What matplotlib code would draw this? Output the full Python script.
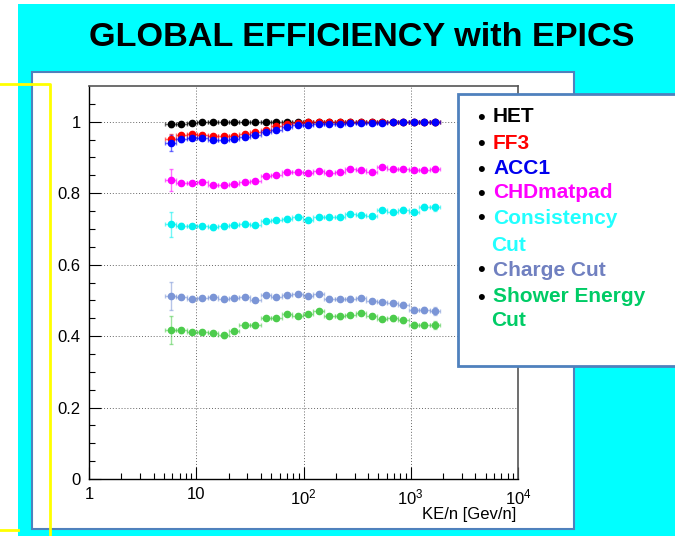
import numpy as np
import matplotlib.pyplot as plt
from matplotlib.patches import Rectangle
from matplotlib.lines import Line2D
from matplotlib.ticker import FixedLocator, NullFormatter, LogLocator


# ============================================================
# DATA
# ============================================================

KE = [5.78, 7.25, 9.10, 11.4, 14.3, 18.0, 22.6, 28.3, 35.5, 44.6, 55.9, 70.2, 88.1,
      110.5, 138.7, 174.0, 218.3, 274.0, 343.8, 431.4, 541.3, 679.3, 852.3, 1069, 1342, 1684]

HET = [0.993, 0.995, 0.997, 0.998, 0.998, 0.998, 0.998, 0.998, 0.998, 0.999, 0.999, 0.999, 1.000,
       1.000, 1.000, 1.000, 1.000, 1.000, 1.000, 1.000, 1.000, 1.000, 1.000, 1.000, 1.000, 1.000]
HET_ERR = [0.008, 0.004, 0.003, 0.002, 0.002, 0.002, 0.002, 0.002, 0.002, 0.002, 0.002, 0.002, 0.002,
           0.002, 0.002, 0.002, 0.002, 0.002, 0.002, 0.002, 0.002, 0.002, 0.002, 0.003, 0.003, 0.004]

FF3 = [0.951, 0.962, 0.967, 0.964, 0.959, 0.961, 0.961, 0.965, 0.970, 0.978, 0.987, 0.994, 0.996,
       0.999, 0.999, 0.999, 1.000, 1.000, 1.000, 1.000, 1.000, 1.000, 1.000, 1.000, 1.000, 1.000]
FF3_ERR = [0.015, 0.006, 0.005, 0.004, 0.004, 0.004, 0.004, 0.004, 0.004, 0.003, 0.003, 0.003, 0.003,
           0.003, 0.003, 0.003, 0.003, 0.003, 0.003, 0.003, 0.003, 0.003, 0.003, 0.003, 0.004, 0.004]

ACC1 = [0.940, 0.951, 0.955, 0.955, 0.950, 0.950, 0.951, 0.957, 0.963, 0.971, 0.978, 0.984, 0.990,
        0.992, 0.993, 0.994, 0.995, 0.996, 0.997, 0.997, 0.997, 0.998, 0.998, 0.998, 0.998, 0.998]
ACC1_ERR = [0.022, 0.008, 0.006, 0.005, 0.005, 0.005, 0.005, 0.005, 0.004, 0.004, 0.004, 0.004, 0.004,
            0.004, 0.004, 0.004, 0.004, 0.004, 0.004, 0.004, 0.004, 0.004, 0.004, 0.005, 0.005, 0.006]

CHD = [0.836, 0.828, 0.828, 0.831, 0.824, 0.824, 0.826, 0.831, 0.833, 0.847, 0.852, 0.858, 0.860,
       0.857, 0.862, 0.856, 0.859, 0.868, 0.864, 0.859, 0.872, 0.867, 0.867, 0.864, 0.866, 0.868]
CHD_ERR = [0.031, 0.006, 0.005, 0.005, 0.005, 0.005, 0.005, 0.005, 0.005, 0.005, 0.005, 0.005, 0.005,
           0.005, 0.005, 0.005, 0.005, 0.005, 0.005, 0.005, 0.005, 0.005, 0.006, 0.006, 0.007, 0.008]

CONS = [0.713, 0.709, 0.709, 0.707, 0.704, 0.707, 0.710, 0.715, 0.711, 0.723, 0.725, 0.729, 0.733,
        0.726, 0.733, 0.733, 0.733, 0.741, 0.739, 0.737, 0.753, 0.748, 0.753, 0.748, 0.761, 0.761]
CONS_ERR = [0.035, 0.007, 0.006, 0.006, 0.006, 0.006, 0.006, 0.006, 0.006, 0.006, 0.006, 0.006, 0.006,
            0.006, 0.006, 0.006, 0.006, 0.006, 0.006, 0.006, 0.006, 0.006, 0.007, 0.007, 0.008, 0.010]

CHARGE = [0.513, 0.510, 0.505, 0.507, 0.510, 0.505, 0.507, 0.509, 0.502, 0.514, 0.510, 0.514, 0.517,
          0.513, 0.518, 0.505, 0.503, 0.505, 0.507, 0.499, 0.495, 0.492, 0.488, 0.474, 0.473, 0.470]
CHARGE_ERR = [0.039, 0.007, 0.006, 0.006, 0.006, 0.006, 0.006, 0.006, 0.006, 0.006, 0.006, 0.006, 0.006,
              0.006, 0.006, 0.006, 0.006, 0.006, 0.006, 0.006, 0.006, 0.007, 0.007, 0.008, 0.009, 0.011]

SHOWER = [0.417, 0.416, 0.412, 0.412, 0.409, 0.402, 0.414, 0.432, 0.430, 0.450, 0.450, 0.461, 0.457,
          0.461, 0.470, 0.457, 0.455, 0.459, 0.464, 0.457, 0.448, 0.450, 0.445, 0.431, 0.431, 0.431]
SHOWER_ERR = [0.040, 0.007, 0.006, 0.006, 0.006, 0.006, 0.006, 0.006, 0.006, 0.006, 0.006, 0.006, 0.006,
              0.006, 0.006, 0.006, 0.006, 0.006, 0.006, 0.006, 0.006, 0.007, 0.007, 0.008, 0.009, 0.011]

# (values, errors, marker colour) in drawing order
SERIES = [
    (SHOWER, SHOWER_ERR, "#4ccc4c"),
    (CHARGE, CHARGE_ERR, "#7b95d6"),
    (CONS, CONS_ERR, "#00f0f0"),
    (CHD, CHD_ERR, "#ff00ff"),
    (HET, HET_ERR, "#000000"),
    (FF3, FF3_ERR, "#ff0000"),
    (ACC1, ACC1_ERR, "#0000ff"),
]

LEGEND_LINES = [
    ("HET", "#000000", True),
    ("FF3", "#ff0000", True),
    ("ACC1", "#0000ee", True),
    ("CHDmatpad", "#ff00ff", True),
    ("Consistency", "#22ffff", True),
    ("Cut", "#22ffff", False),
    ("Charge Cut", "#7080c0", True),
    ("Shower Energy", "#00cc66", True),
    ("Cut", "#00cc66", False),
]

TITLE = "GLOBAL EFFICIENCY with EPICS"

W, H = 675, 536
FONT = ["Liberation Sans", "DejaVu Sans"]

plt.rcParams["mathtext.fontset"] = "custom"
plt.rcParams["mathtext.rm"] = "Liberation Sans"
plt.rcParams["mathtext.it"] = "Liberation Sans:italic"


def px(x, y):
    # pixel (from top-left) -> figure fraction
    return x / W, 1 - y / H


def main():
    fig = plt.figure(figsize=(W / 100, H / 100), dpi=100, facecolor="white")

    # slide background
    fig.patches.append(Rectangle(px(18, 536), (W - 18) / W, 532 / H, transform=fig.transFigure,
                                 facecolor="#00ffff", edgecolor="none", zorder=-3))
    fig.patches.append(Rectangle(px(32, 529), (574 - 32) / W, (529 - 72) / H, transform=fig.transFigure,
                                 facecolor="white", edgecolor="#4f81bd", linewidth=1.5, zorder=-2))
    for xs, ys in [([0, 50, 50], [84, 84, 536]), ([0, 18], [530, 530])]:
        fig.lines.append(Line2D([x / W for x in xs], [1 - y / H for y in ys], transform=fig.transFigure,
                                color="#ffff00", linewidth=2, zorder=-1))

    fig.text(*px(362, 38), TITLE, ha="center", va="center", fontsize=24.7, fontweight="bold",
             family=FONT, color="black")

    # plot frame
    left, top, right, bottom = 89, 86, 518, 479
    ax = fig.add_axes([left / W, 1 - bottom / H, (right - left) / W, (bottom - top) / H])
    ax.set_facecolor("white")

    x = np.array(KE)
    edges = np.sqrt(x[:-1] * x[1:])
    lo = np.concatenate([[x[0] ** 2 / edges[0]], edges])
    hi = np.concatenate([edges, [x[-1] ** 2 / edges[-1]]])
    xerr = [x - lo, hi - x]

    for values, errors, color in SERIES:
        _, caps, bars = ax.errorbar(x, values, yerr=errors, xerr=xerr, fmt="o", color=color,
                                    markersize=4.5, ecolor=color, elinewidth=1, capsize=1.5, capthick=1)
        for artist in list(caps) + list(bars):
            artist.set_alpha(0.55)

    ax.set_xscale("log")
    ax.set_xlim(1, 1e4)
    ax.set_ylim(0, 1.1)

    ax.xaxis.set_major_locator(FixedLocator([1, 10, 100, 1000, 10000]))
    ax.xaxis.set_minor_locator(LogLocator(base=10, subs=np.arange(2, 10)))
    ax.xaxis.set_minor_formatter(NullFormatter())
    ax.set_xticklabels(["1", "10", "$10^2$", "$10^3$", "$10^4$"])
    ax.set_yticks([0, 0.2, 0.4, 0.6, 0.8, 1.0])
    ax.set_yticklabels(["0", "0.2", "0.4", "0.6", "0.8", "1"])
    ax.set_yticks(np.arange(0, 1.1, 0.05), minor=True)

    ax.tick_params(which="both", direction="in", top=False, right=False, labelsize=12, colors="black")
    ax.tick_params(which="major", length=8.5, width=0.8, pad=6)
    ax.tick_params(which="minor", length=4.5, width=0.8)
    for label in ax.get_xticklabels() + ax.get_yticklabels():
        label.set_family(FONT)

    ax.grid(True, which="major", color="#666666", linestyle=(0, (1, 2)), linewidth=0.7)
    for side in ["left", "bottom"]:
        ax.spines[side].set_color("black")
        ax.spines[side].set_linewidth(1)
    for side in ["top", "right"]:
        ax.spines[side].set_color("#555555")
        ax.spines[side].set_linewidth(1.2)

    ax.text(0.995, -0.07, "KE/n [Gev/n]", transform=ax.transAxes, ha="right", va="top",
            fontsize=12, family=FONT)

    # legend box as on the slide
    fig.patches.append(Rectangle(px(458, 366), (700 - 458) / W, (366 - 94) / H, transform=fig.transFigure,
                                 facecolor="white", edgecolor="#4f81bd", linewidth=2, zorder=5))
    ys = [117, 143, 169, 193, 218, 246, 270, 297, 320]
    for (text, color, bullet), y in zip(LEGEND_LINES, ys):
        if bullet:
            fig.text(*px(481, y + 1), "\u2022", ha="center", va="center", fontsize=16, color="black",
                     family=FONT, zorder=6)
            fig.text(*px(493, y), text, ha="left", va="center", fontsize=15, fontweight="bold",
                     color=color, family=FONT, zorder=6)
        else:
            fig.text(*px(491, y), text, ha="left", va="center", fontsize=15, fontweight="bold",
                     color=color, family=FONT, zorder=6)

    fig.savefig("out.png", dpi=100, facecolor="white")


if __name__ == "__main__":
    main()
